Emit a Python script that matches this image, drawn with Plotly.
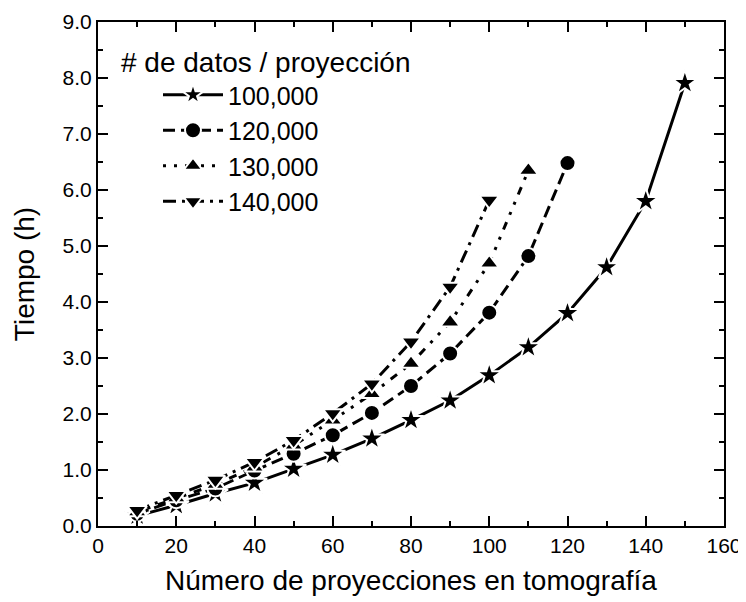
import plotly.graph_objects as go

x_100 = [10, 20, 30, 40, 50, 60, 70, 80, 90, 100, 110, 120, 130, 140, 150]
t_100 = [0.18, 0.37, 0.58, 0.77, 1.02, 1.27, 1.56, 1.89, 2.24, 2.69, 3.19, 3.80, 4.62, 5.80, 7.91]

x_120 = [10, 20, 30, 40, 50, 60, 70, 80, 90, 100, 110, 120]
t_120 = [0.22, 0.46, 0.67, 0.99, 1.29, 1.62, 2.02, 2.50, 3.08, 3.81, 4.82, 6.48]

x_130 = [10, 20, 30, 40, 50, 60, 70, 80, 90, 100, 110]
t_130 = [0.25, 0.50, 0.74, 1.05, 1.44, 1.89, 2.36, 2.90, 3.64, 4.69, 6.35]

x_140 = [10, 20, 30, 40, 50, 60, 70, 80, 90, 100]
t_140 = [0.28, 0.55, 0.82, 1.14, 1.53, 2.01, 2.54, 3.29, 4.27, 5.82]

names = ["100,000", "120,000", "130,000", "140,000"]
legend_title = "# de datos / proyección"
x_title = "Número de proyecciones en tomografía"
y_title = "Tiempo (h)"

FONT = "Liberation Sans, Arial, sans-serif"

series = [
    (x_100, t_100, "star", 19, "solid"),
    (x_120, t_120, "circle", 16, "12px,6px"),
    (x_130, t_130, "triangle-up", 17, "3px,8px,3px,8px,8px,8px"),
    (x_140, t_140, "triangle-down", 17, "13px,6px,3px,6px"),
]

fig = go.Figure()
for (xs, ys, sym, sz, dash), nm in zip(series, names):
    fig.add_trace(go.Scatter(
        x=xs, y=ys, name=nm, mode="lines+markers",
        line=dict(color="black", width=3, dash=dash),
        marker=dict(symbol=sym, size=sz, color="black", line=dict(width=2, color="white")),
    ))

axis_common = dict(
    showline=True, linecolor="black", linewidth=2, mirror="allticks",
    ticks="inside", ticklen=10, tickwidth=2, tickcolor="black",
    showgrid=False, zeroline=False, automargin=False,
)

fig.update_xaxes(
    range=[0, 160], dtick=20, tick0=0,
    minor=dict(dtick=10, ticks="inside", ticklen=5, tickwidth=2, tickcolor="black"),
    tickfont=dict(family=FONT, size=21, color="black"),
    title=dict(text=x_title, font=dict(family=FONT, size=28, color="black"), standoff=14),
    **axis_common,
)
fig.update_yaxes(
    range=[0, 9], dtick=1, tick0=0, tickformat=".1f",
    minor=dict(dtick=0.5, ticks="inside", ticklen=5, tickwidth=2, tickcolor="black"),
    tickfont=dict(family=FONT, size=21, color="black"),
    title=dict(text=y_title, font=dict(family=FONT, size=28, color="black"), standoff=20),
    **axis_common,
)

L, T, PW, PH = 90, 14, 626, 504

fig.add_annotation(
    x=(111 - L) / PW, y=(T + PH - 54) / PH, xref="paper", yref="paper",
    text=legend_title, showarrow=False,
    font=dict(family=FONT, size=28, color="black"),
    xanchor="left", yanchor="middle",
)

fig.update_layout(
    width=738, height=594,
    margin=dict(l=L, r=738 - L - PW, t=T, b=594 - T - PH),
    plot_bgcolor="white", paper_bgcolor="white",
    showlegend=True,
    legend=dict(
        x=(150 - L) / PW, y=(T + PH - 64) / PH, xanchor="left", yanchor="top",
        font=dict(family=FONT, size=25, color="black"),
        bgcolor="rgba(0,0,0,0)", itemwidth=60, tracegroupgap=0,
    ),
)

fig.write_html("out.html")
